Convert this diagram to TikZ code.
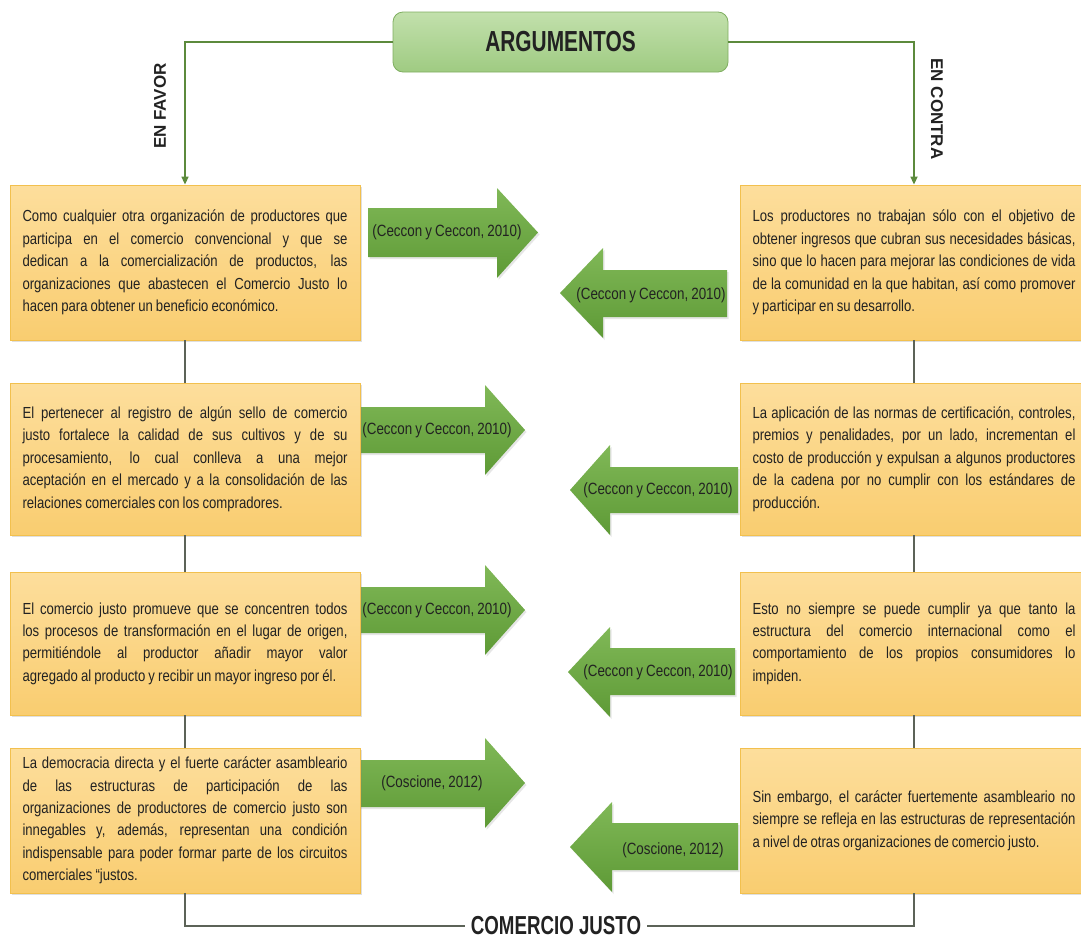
\documentclass[tikz,border=0pt]{standalone}
\usepackage{fontspec}
\setmainfont{Liberation Sans}[FakeStretch=0.82,WordSpace=0.85]
\newfontfamily\headfont{Liberation Sans}[FakeStretch=0.72]
\newfontfamily\sidefont{Liberation Sans}
\usetikzlibrary{arrows.meta,shadows}
\definecolor{boxtop}{HTML}{FDDE9C}
\definecolor{boxbot}{HTML}{F9CD70}
\definecolor{boxdraw}{HTML}{F2C04E}
\definecolor{arrtop}{HTML}{80B857}
\definecolor{arrbot}{HTML}{5E9A36}
\definecolor{hdtop}{HTML}{C2E0AC}
\definecolor{hdbot}{HTML}{9FCB82}
\definecolor{hddraw}{HTML}{7FAE60}
\definecolor{gline}{HTML}{5C8A3C}
\definecolor{dline}{HTML}{5C6358}
\definecolor{txtc}{HTML}{222222}
\tolerance=9999
\hbadness=10000
\hfuzz=20pt
\emergencystretch=30pt
\tikzset{
  bodytxt/.style={font=\fontsize{16}{22.4}\selectfont, text=txtc},
  boxbase/.style={draw=boxdraw, line width=0.8pt, top color=boxtop, bottom color=boxbot,
    drop shadow={shadow xshift=1.5pt, shadow yshift=-2pt, opacity=0.25},
    align=justify, inner sep=0pt, bodytxt},
  lbox/.style={boxbase, minimum width=350pt, text width=325pt},
  rbox/.style={boxbase, minimum width=348pt, text width=323pt},
  arrshape/.style={top color=arrtop, bottom color=arrbot,
    drop shadow={shadow xshift=1.5pt, shadow yshift=-2pt, opacity=0.2}},
  arrtxt/.style={font=\fontsize{16.3}{20}\selectfont, text=txtc, inner sep=0pt},
  hbox/.style={draw=hddraw, line width=0.8pt, rounded corners=10pt, top color=hdtop, bottom color=hdbot,
    minimum width=335pt, minimum height=60pt, font=\headfont\bfseries\fontsize{29}{30}\selectfont, text=txtc},
  bigtxt/.style={font=\headfont\bfseries\fontsize{26}{28}\selectfont, text=txtc, inner xsep=6pt, inner ysep=0pt},
  side/.style={font=\sidefont\bfseries\fontsize{17}{20}\selectfont, text=txtc, inner sep=0pt},
  gconn/.style={draw=gline, line width=1.6pt, -{Triangle[length=8pt,width=7pt]}},
  dconn/.style={draw=dline, line width=1.2pt},
}
\begin{document}
\begin{tikzpicture}[x=1pt,y=-1pt]
\useasboundingbox (0,0) rectangle (1081,940);
% arrows
\shade[arrshape] (368,208)--(497,208)--(497,188)--(538,232.5)--(497,278)--(497,257)--(368,257)--cycle;
\shade[arrshape] (727,270)--(603,270)--(603,248)--(560,293)--(603,338)--(603,317)--(727,317)--cycle;
\shade[arrshape] (358,407)--(485,407)--(485,385)--(525,430)--(485,475)--(485,453)--(358,453)--cycle;
\shade[arrshape] (738,467)--(610,467)--(610,445)--(570,490)--(610,535)--(610,513)--(738,513)--cycle;
\shade[arrshape] (358,587)--(485,587)--(485,565)--(525,610)--(485,655)--(485,633)--(358,633)--cycle;
\shade[arrshape] (735,648)--(610,648)--(610,627)--(568,672)--(610,717)--(610,695)--(735,695)--cycle;
\shade[arrshape] (358,760)--(485,760)--(485,738)--(525,783)--(485,828)--(485,807)--(358,807)--cycle;
\shade[arrshape] (738,823)--(612,823)--(612,802)--(570,847)--(612,892)--(612,870)--(738,870)--cycle;
\node[arrtxt] (a1r) at (447,232) {(Ceccon y Ceccon, 2010)};
\node[arrtxt] (a1l) at (651,295) {(Ceccon y Ceccon, 2010)};
\node[arrtxt] (a2r) at (437,430) {(Ceccon y Ceccon, 2010)};
\node[arrtxt] (a2l) at (658,490) {(Ceccon y Ceccon, 2010)};
\node[arrtxt] (a3r) at (437,610) {(Ceccon y Ceccon, 2010)};
\node[arrtxt] (a3l) at (658,672) {(Ceccon y Ceccon, 2010)};
\node[arrtxt] (a4r) at (432,783) {(Coscione, 2012)};
\node[arrtxt] (a4l) at (673,850) {(Coscione, 2012)};
% header
\node[hbox] (arg) at (560.5,42) {ARGUMENTOS};
\node[side, rotate=90] (fav) at (160,106) {EN FAVOR};
\node[side, rotate=-90] (con) at (937,109) {EN CONTRA};
% boxes
\node[lbox, minimum height=155pt] (L1) at (185,262.5) {Como cualquier otra organización de productores que\linebreak participa en el comercio convencional y que se\linebreak dedican a la comercialización de productos, las\linebreak organizaciones que abastecen el Comercio Justo lo\linebreak hacen para obtener un beneficio económico.};
\node[lbox, minimum height=152pt] (L2) at (185,459) {El pertenecer al registro de algún sello de comercio\linebreak justo fortalece la calidad de sus cultivos y de su\linebreak procesamiento, lo cual conlleva a una mejor\linebreak aceptación en el mercado y a la consolidación de las\linebreak relaciones comerciales con los compradores.};
\node[lbox, minimum height=143pt] (L3) at (185,643.5) {El comercio justo promueve que se concentren todos\linebreak los procesos de transformación en el lugar de origen,\linebreak permitiéndole al productor añadir mayor valor\linebreak \mbox{agregado al producto y recibir un mayor ingreso por él.}};
\node[lbox, minimum height=145pt] (L4) at (185,820.5) {La democracia directa y el fuerte carácter asambleario\linebreak de las estructuras de participación de las\linebreak organizaciones de productores de comercio justo son\linebreak innegables y, además, representan una condición\linebreak indispensable para poder formar parte de los circuitos\linebreak comerciales “justos.};
\node[rbox, minimum height=155pt] (R1) at (914,262.5) {Los productores no trabajan sólo con el objetivo de\linebreak obtener ingresos que cubran sus necesidades básicas,\linebreak sino que lo hacen para mejorar las condiciones de vida\linebreak de la comunidad en la que habitan, así como promover\linebreak y participar en su desarrollo.};
\node[rbox, minimum height=152pt] (R2) at (914,459) {La aplicación de las normas de certificación, controles,\linebreak premios y penalidades, por un lado, incrementan el\linebreak costo de producción y expulsan a algunos productores\linebreak de la cadena por no cumplir con los estándares de\linebreak producción.};
\node[rbox, minimum height=143pt] (R3) at (914,643.5) {Esto no siempre se puede cumplir ya que tanto la\linebreak estructura del comercio internacional como el\linebreak comportamiento de los propios consumidores lo\linebreak impiden.};
\node[rbox, minimum height=145pt] (R4) at (914,820.5) {Sin embargo, el carácter fuertemente asambleario no\linebreak siempre se refleja en las estructuras de representación\linebreak a nivel de otras organizaciones de comercio justo.};
\node[bigtxt] (cj) at (556,926) {COMERCIO JUSTO};
% connectors
\draw[gconn] (arg.west) -| (L1.north);
\draw[gconn] (arg.east) -| (R1.north);
\draw[dconn] (L1.south) -- (L2.north);
\draw[dconn] (L2.south) -- (L3.north);
\draw[dconn] (L3.south) -- (L4.north);
\draw[dconn] (R1.south) -- (R2.north);
\draw[dconn] (R2.south) -- (R3.north);
\draw[dconn] (R3.south) -- (R4.north);
\draw[dconn] (L4.south) |- (cj.west);
\draw[dconn] (R4.south) |- (cj.east);
\end{tikzpicture}
\end{document}
